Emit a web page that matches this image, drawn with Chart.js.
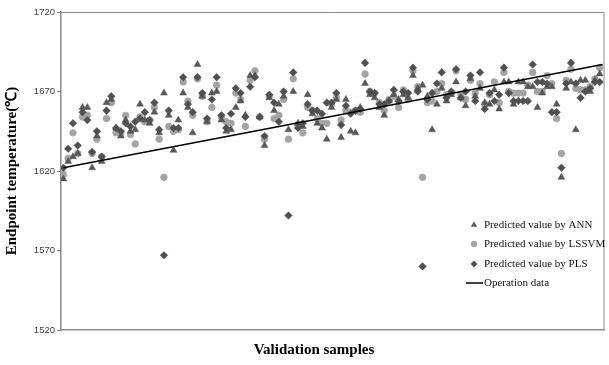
<!DOCTYPE html>
<html>
<head>
<meta charset="utf-8">
<script src="https://cdn.jsdelivr.net/npm/chart.js@4/dist/chart.umd.min.js"></script>
<style>
html,body{margin:0;padding:0;background:#fff;}
#wrap{width:609px;height:365px;position:relative;}
</style>
</head>
<body>
<div id="wrap"><canvas id="c"></canvas></div>
<script>
// ---- data ----
const seriesNames = ["Predicted value by ANN", "Predicted value by LSSVM", "Predicted value by PLS", "Operation data"];
const yTicks = [1520, 1570, 1620, 1670, 1720];
const xTitle = "Validation samples";
const yTitle = "Endpoint temperature(\u2103)";

const ann = [
1615,1626,1629,1631,1660,1660,1622,1642,1626,1663,
1665,1647,1642,1652,1645,1646,1662,1652,1650,1657,
1644,1669,1655,1633,1652,1669,1660,1644,1687,1667,
1651,1669,1670,1652,1645,1646,1660,1664,1655,1680,
1680,1654,1636,1666,1658,1662,1667,1646,1670,1650,
1648,1668,1656,1650,1647,1640,1660,1665,1641,1665,
1645,1644,1660,1675,1668,1666,1660,1655,1664,1668,
1665,1668,1666,1680,1672,1674,1667,1646,1662,1672,
1664,1668,1676,1666,1661,1678,1667,1672,1663,1662,
1671,1659,1676,1676,1662,1676,1676,1673,1673,1660,
1669,1673,1673,1662,1616,1672,1676,1646,1677,1677,
1670,1677,1681];

const lssvm = [
1618,1628,1644,1631,1654,1655,1631,1640,1629,1653,
1663,1644,1644,1655,1643,1637,1654,1651,1652,1660,
1640,1616,1648,1645,1646,1676,1664,1655,1678,1667,
1651,1660,1674,1654,1651,1650,1669,1665,1648,1677,
1683,1654,1640,1667,1653,1655,1665,1640,1678,1649,
1644,1660,1658,1653,1650,1650,1662,1666,1652,1658,
1657,1658,1657,1681,1670,1669,1663,1658,1665,1667,
1660,1671,1665,1683,1673,1616,1663,1664,1670,1675,
1668,1669,1683,1668,1665,1677,1669,1675,1662,1668,
1676,1663,1682,1670,1669,1669,1669,1674,1682,1670,
1670,1680,1675,1653,1631,1677,1684,1672,1671,1671,
1673,1678,1685];

const pls = [
1622,1634,1650,1636,1657,1652,1632,1645,1629,1658,
1667,1647,1645,1650,1648,1651,1653,1657,1652,1663,
1646,1567,1658,1647,1647,1679,1662,1657,1679,1669,
1653,1665,1679,1655,1647,1656,1672,1669,1654,1673,
1679,1654,1642,1668,1663,1651,1670,1592,1682,1647,
1650,1662,1658,1658,1656,1663,1663,1669,1649,1661,
1656,1658,1659,1688,1670,1669,1662,1662,1664,1671,
1664,1670,1669,1685,1670,1560,1665,1669,1675,1682,
1666,1670,1684,1666,1670,1680,1664,1682,1659,1669,
1664,1668,1685,1669,1664,1664,1664,1664,1687,1676,
1676,1675,1657,1657,1622,1675,1688,1675,1666,1670,
1672,1676,1676];

// operation data line (end points)
const opX = [0, 112.6];
const opY = [1622, 1687];

// ---- build chart ----
const toPts = arr => arr.map((v, i) => ({x: i, y: v}));
const opPts = opX.map((x, i) => ({x: x, y: opY[i]}));

const colANN = '#585858', colLS = '#a4a4a4', colPLS = '#505050';

const boxPlugin = {
  id: 'box',
  afterDraw(chart) {
    const {ctx, chartArea: a} = chart;
    ctx.save();
    ctx.strokeStyle = '#8a8a8a';
    ctx.lineWidth = 1;
    ctx.beginPath();
    ctx.moveTo(a.left, a.top + 0.5);
    ctx.lineTo(a.right - 0.5, a.top + 0.5);
    ctx.lineTo(a.right - 0.5, a.bottom);
    ctx.stroke();
    // x title
    ctx.fillStyle = '#000';
    ctx.font = 'bold 15px "Liberation Serif", "Times New Roman", serif';
    ctx.textAlign = 'center';
    ctx.textBaseline = 'alphabetic';
    ctx.fillText(xTitle, 314, 354);
    // legend
    ctx.font = '11px "Liberation Serif", "Times New Roman", serif';
    ctx.textAlign = 'left';
    ctx.textBaseline = 'middle';
    const rows = [225, 244, 264, 283];
    const ds = chart.data.datasets;
    const styles = ['triangle', 'circle', 'rectRot'];
    for (let k = 0; k < 4; k++) {
      const d = ds[k];
      const y = rows[k];
      if (k < 3) {
        ctx.fillStyle = d.backgroundColor;
        ctx.strokeStyle = d.borderColor;
        ctx.lineWidth = 0.5;
        Chart.helpers.drawPoint(ctx, {pointStyle: styles[k], radius: k === 1 ? 3 : 3.2, borderWidth: 0.5}, 474, y);
      } else {
        ctx.strokeStyle = '#000';
        ctx.lineWidth = 1.5;
        ctx.beginPath();
        ctx.moveTo(466, y);
        ctx.lineTo(483, y);
        ctx.stroke();
      }
      ctx.fillStyle = '#111';
      ctx.fillText(d.label, 484, y);
    }
    ctx.restore();
  }
};

new Chart(document.getElementById('c'), {
  type: 'scatter',
  data: {
    datasets: [
      {label: seriesNames[0], data: toPts(ann), pointStyle: 'triangle', pointRadius: 4,
       backgroundColor: colANN, borderColor: colANN, borderWidth: 0.5, order: 3},
      {label: seriesNames[1], data: toPts(lssvm), pointStyle: 'circle', pointRadius: 3.4,
       backgroundColor: colLS, borderColor: colLS, borderWidth: 0.5, order: 4},
      {label: seriesNames[2], data: toPts(pls), pointStyle: 'rectRot', pointRadius: 3.8,
       backgroundColor: colPLS, borderColor: colPLS, borderWidth: 0.5, order: 2},
      {label: seriesNames[3], type: 'line', data: opPts, borderColor: '#000', borderWidth: 1.5,
       pointRadius: 0, fill: false, showLine: true, order: 1}
    ]
  },
  options: {
    responsive: true,
    maintainAspectRatio: false,
    animation: false,
    layout: {padding: {top: 12, right: 3, left: 0, bottom: 0}},
    plugins: {legend: {display: false}, tooltip: {enabled: false}},
    scales: {
      x: {
        type: 'linear', min: -0.5, max: 113,
        grid: {display: false},
        ticks: {display: false},
        border: {display: true, color: '#8a8a8a', width: 1.5},
        afterFit(s) { s.height = 35; }
      },
      y: {
        min: 1520, max: 1720,
        afterBuildTicks(s) { s.ticks = yTicks.map(v => ({value: v})); },
        ticks: {font: {family: '"Liberation Sans", Arial, sans-serif', size: 9.5}, color: '#404040', padding: 2,
                callback: v => String(v)},
        grid: {display: true, drawOnChartArea: false, drawTicks: true, tickLength: 4, color: '#8a8a8a'},
        border: {display: true, color: '#8a8a8a', width: 1.5},
        title: {display: true, text: yTitle, color: '#000',
                font: {family: '"Liberation Serif", "Times New Roman", serif', size: 15, weight: 'bold'},
                padding: {top: 3, bottom: 0}},
        afterFit(s) { s.width = 61; }
      }
    }
  },
  plugins: [boxPlugin]
});
</script>
</body>
</html>
